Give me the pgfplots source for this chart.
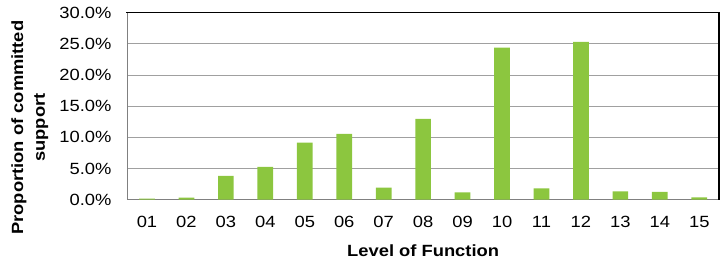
\documentclass[border=0pt]{standalone}
\usepackage{fontspec}
\setmainfont{Liberation Sans}[FakeStretch=1.13]
\usepackage{pgfplots}
\pgfplotsset{compat=1.18}
\definecolor{bargreen}{RGB}{140,198,63}
\definecolor{gridgray}{RGB}{160,160,160}
\definecolor{axisgray}{RGB}{128,128,128}
\begin{document}
\begin{tikzpicture}
\begin{axis}[
  name=ax,
  scale only axis,
  width=592bp, height=187bp,
  xmin=0.5, xmax=15.5,
  ymin=0, ymax=30,
  ytick={0,5,10,15,20,25,30},
  yticklabels={0.0\%,5.0\%,10.0\%,15.0\%,20.0\%,25.0\%,30.0\%},
  xtick={1,...,15},
  xticklabels={01,02,03,04,05,06,07,08,09,10,11,12,13,14,15},
  major tick length=0pt,
  ymajorgrids,
  grid style={gridgray, line width=1bp},
  axis line style={axisgray, line width=1.3bp},
  tick label style={font=\fontsize{16.3}{19}\selectfont},
  yticklabel style={xshift=-12.3bp},
  xticklabel style={yshift=-13.3bp},
  xlabel={\textbf{Level of Function}},
  ylabel={\textbf{Proportion of committed}\\\textbf{support}},
  every axis x label/.style={at={(rel axis cs:0.5,0)}, yshift=-51bp, anchor=center, font=\fontsize{16.3}{19}\selectfont},
  every axis y label/.style={at={(rel axis cs:0,0.385)}, xshift=-97.5bp, rotate=90, anchor=center, align=center, font=\fontsize{16.3}{22}\selectfont},
  /pgf/number format/assume math mode=true,
  clip=false,
]
\addplot[ybar, bar width=15.7bp, fill=bargreen, draw=none] coordinates {
(1,0.15) (2,0.3) (3,3.8) (4,5.25) (5,9.15) (6,10.55) (7,1.93) (8,12.95)
(9,1.18) (10,24.4) (11,1.8) (12,25.3) (13,1.34) (14,1.23) (15,0.37)
};
\draw[black, line width=1.6bp, line cap=rect] (rel axis cs:0,1) -- (rel axis cs:1,1) -- (rel axis cs:1,0);
\end{axis}
\pgfresetboundingbox
\path ([xshift=-127.3bp,yshift=-61.7bp]ax.south west) rectangle ([xshift=8bp,yshift=12.7bp]ax.north east);
\end{tikzpicture}
\end{document}
